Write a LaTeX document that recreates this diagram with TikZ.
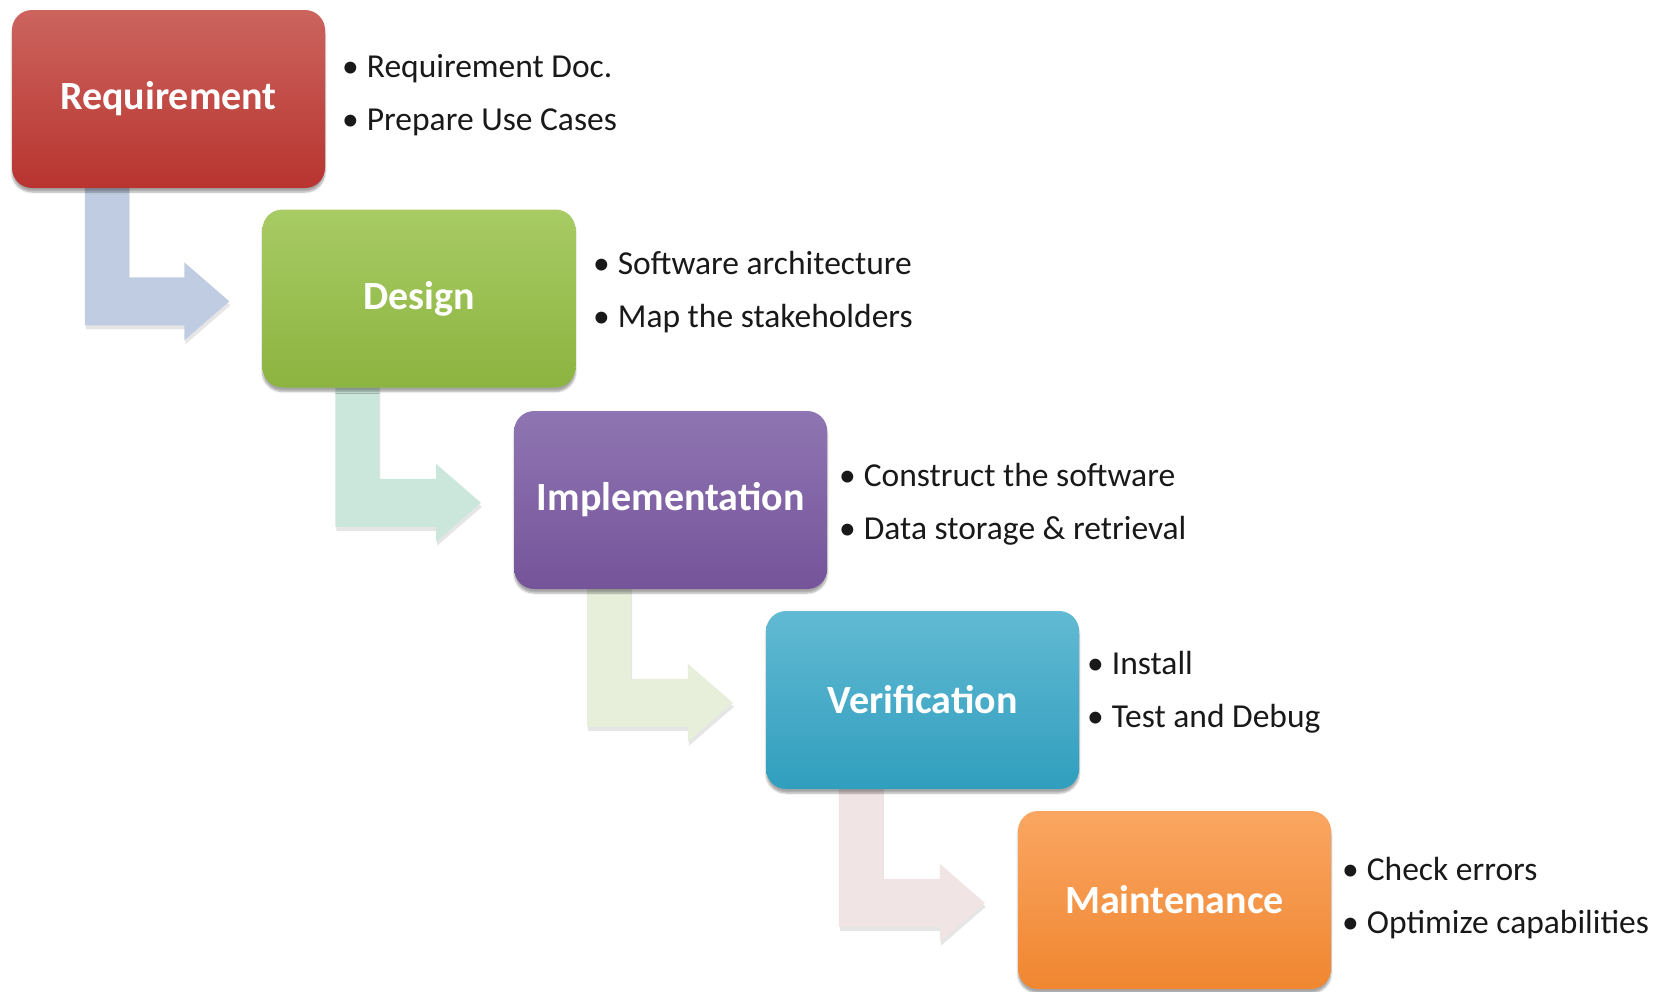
\documentclass[tikz,border=0pt]{standalone}
\usepackage{fontspec}
\setmainfont{Carlito}
\usetikzlibrary{calc,backgrounds,shadows.blur}
\definecolor{rTop}{RGB}{204,100,94}
\definecolor{rBot}{RGB}{184,52,48}
\definecolor{gTop}{RGB}{168,203,100}
\definecolor{gBot}{RGB}{140,180,64}
\definecolor{pTop}{RGB}{143,117,178}
\definecolor{pBot}{RGB}{117,84,154}
\definecolor{tTop}{RGB}{98,186,211}
\definecolor{tBot}{RGB}{48,158,190}
\definecolor{oTop}{RGB}{250,166,98}
\definecolor{oBot}{RGB}{240,134,48}
\definecolor{aOne}{RGB}{191,204,226}
\definecolor{aTwo}{RGB}{203,230,218}
\definecolor{aThree}{RGB}{231,238,218}
\definecolor{aFour}{RGB}{241,228,228}
\definecolor{txt}{RGB}{25,25,25}
\tikzset{
  phasebox/.style={rectangle, rounded corners=20pt, minimum width=313pt,
    minimum height=178pt, inner sep=0pt, text=white,
    font=\bfseries\fontsize{40}{46}\selectfont,
    blur shadow={shadow xshift=0pt, shadow yshift=-4pt, shadow blur steps=6, shadow opacity=35}},
  bullets/.style={anchor=west, inner sep=0pt, align=left, text=txt,
    font=\fontsize{33.5}{53}\selectfont},
  conn/.style={draw=none}
}
\newcommand\bul{•\hspace{8pt}}
\newcommand\lconn[3]{%
  \fill[conn, fill=black, opacity=0.10] let \p1=(#1.south west), \p2=(#2.north west) in
    (\x1+74pt,\y1) -- (\x1+74pt,\y2-120pt) -- (\x2-77pt,\y2-120pt) -- (\x2-77pt,\y2-135pt)
    -- (\x2-32pt,\y2-96pt) -- (\x2-77pt,\y2-57pt) -- (\x2-77pt,\y2-72pt)
    -- (\x1+118pt,\y2-72pt) -- (\x1+118pt,\y1) -- cycle;
  \fill[conn, fill=#3] let \p1=(#1.south west), \p2=(#2.north west) in
    (\x1+73pt,\y1) -- (\x1+73pt,\y2-116pt) -- (\x2-78pt,\y2-116pt) -- (\x2-78pt,\y2-131pt)
    -- (\x2-33pt,\y2-92pt) -- (\x2-78pt,\y2-53pt) -- (\x2-78pt,\y2-68pt)
    -- (\x1+117pt,\y2-68pt) -- (\x1+117pt,\y1) -- cycle;}
\begin{document}
\begin{tikzpicture}[x=1pt,y=-1pt]
\useasboundingbox (0,0) rectangle (1660,991);

\node[phasebox, top color=rTop, bottom color=rBot] (req) at (168.5,99) {\raisebox{-3pt}{Requirement}};
\node[phasebox, top color=gTop, bottom color=gBot] (des) at (419,298.5) {\raisebox{-3pt}{Design}};
\node[phasebox, top color=pTop, bottom color=pBot] (imp) at (670.7,500) {\raisebox{-2pt}{Implementation}};
\node[phasebox, top color=tTop, bottom color=tBot] (ver) at (922.6,700) {Verification};
\node[phasebox, top color=oTop, bottom color=oBot] (mai) at (1174.5,900) {Maintenance};

\begin{scope}[on background layer]
\lconn{req}{des}{aOne}
\lconn{des}{imp}{aTwo}
\lconn{imp}{ver}{aThree}
\lconn{ver}{mai}{aFour}
\end{scope}

\node[bullets] (reqtxt) at (342,95) {\bul Requirement Doc.\\\bul Prepare Use Cases};
\node[bullets] (destxt) at (593,292) {\bul Software architecture\\\bul Map the stakeholders};
\node[bullets] (imptxt) at (839,504) {\bul Construct the software\\\bul Data storage \& retrieval};
\node[bullets] (vertxt) at (1087,692) {\bul Install\\\bul Test and Debug};
\node[bullets] (maitxt) at (1342,898) {\bul Check errors\\\bul Optimize capabilities};
\end{tikzpicture}
\end{document}
